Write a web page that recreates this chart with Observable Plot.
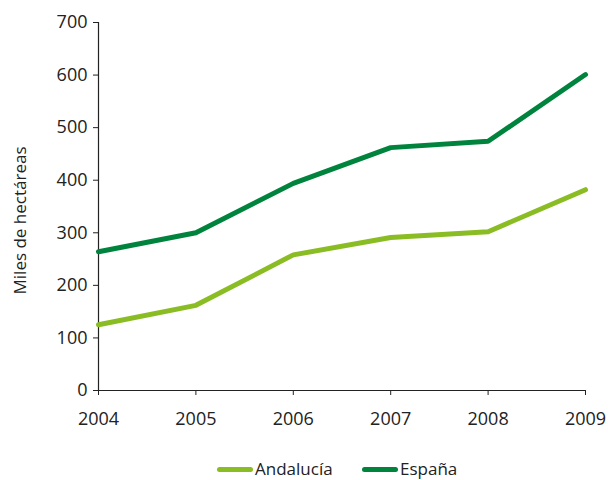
<!DOCTYPE html>
<html><head><meta charset="utf-8">
<script src="https://cdn.jsdelivr.net/npm/d3@7"></script>
<script src="https://cdn.jsdelivr.net/npm/@observablehq/plot@0.6"></script>
<style>
body{margin:0;background:#fff;font-family:"Open Sans",sans-serif;}
#chart svg{display:block;}
#legend{position:relative;height:25px;font-size:17px;color:#222;}
.item{position:absolute;top:0;display:flex;align-items:center;line-height:22px;}
.sw{display:inline-block;width:36px;height:5px;border-radius:3px;margin-right:2px;}
</style></head><body>
<div id="chart"></div>
<div id="legend"></div>
<script>
const years = [2004, 2005, 2006, 2007, 2008, 2009];
const andalucia = [125, 162, 258, 291, 302, 382];
const espana = [264, 300, 394, 462, 474, 601];
const seriesNames = ["Andalucía", "España"];
const colors = ["#8abd24", "#00843d"];
const yTicks = [0, 100, 200, 300, 400, 500, 600, 700];
const yLabel = "Miles de hectáreas";

const data = [];
years.forEach((y, i) => {
  data.push({year: y, value: andalucia[i], serie: seriesNames[0]});
  data.push({year: y, value: espana[i], serie: seriesNames[1]});
});

const plot = Plot.plot({
  width: 608, height: 458,
  marginTop: 22, marginBottom: 68, marginLeft: 98, marginRight: 23,
  style: {fontFamily: "Open Sans, sans-serif", fontSize: "18px", color: "#222"},
  x: {domain: [2004, 2009], ticks: years, tickFormat: "d", label: null},
  y: {domain: [0, 700], ticks: yTicks, label: null},
  color: {domain: seriesNames, range: colors},
  marks: [
    Plot.axisX({ticks: years, tickFormat: "d", tickSize: 5, tickPadding: 17, label: null, fontSize: 18}),
    Plot.axisY({ticks: yTicks, tickSize: 5, tickPadding: 6, fontSize: 18, label: null}),
    Plot.text([yLabel], {text: d => d, frameAnchor: "left", rotate: -90, dx: -78, dy: 14, fontSize: 17, fill: "#222", textAnchor: "middle", lineAnchor: "middle"}),
    Plot.ruleY([0], {stroke: "#222", strokeWidth: 1.2}),
    Plot.ruleX([2004], {stroke: "#222", strokeWidth: 1.2}),
    Plot.line(data, {x: "year", y: "value", stroke: "serie", z: "serie", strokeWidth: 5, strokeLinecap: "round", strokeLinejoin: "round"})
  ]
});
document.getElementById("chart").appendChild(plot);

const leg = document.getElementById("legend");
const lefts = [217, 362];
seriesNames.forEach((n, i) => {
  const it = document.createElement("div");
  it.className = "item";
  it.style.left = lefts[i] + "px";
  it.innerHTML = `<span class="sw" style="background:${colors[i]}"></span><span>${n}</span>`;
  leg.appendChild(it);
});
</script>
</body></html>
